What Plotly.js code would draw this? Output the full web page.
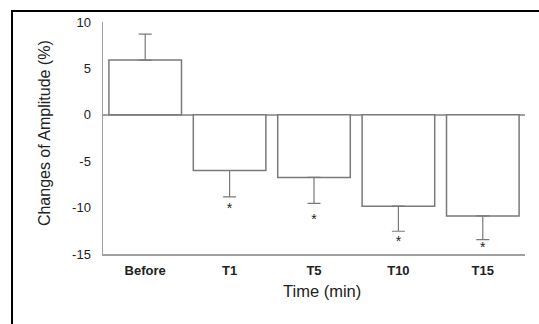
<!DOCTYPE html>
<html>
<head>
<meta charset="utf-8">
<script src="https://cdn.plot.ly/plotly-3.0.1.min.js"></script>
<style>html,body{margin:0;padding:0;background:#fff;}#chart{width:539px;height:324px;}</style>
</head>
<body>
<div id="chart"></div>
<script>
const categories = ["Before", "T1", "T5", "T10", "T15"];
const meanChange = [5.9, -6.0, -6.75, -9.85, -10.9];
const errUp = [2.8, 0, 0, 0, 0];
const errDown = [0, 2.85, 2.8, 2.7, 2.55];
const sigLabels = ["", "*", "*", "*", "*"];
const sigY = [null, -10.2, -11.35, -13.75, -14.4];
const yTicks = [10, 5, 0, -5, -10, -15];
const yTickText = ["10", "5", "0", "-5", "-10", "-15"];

const barTrace = {
  type: "bar",
  x: categories,
  y: meanChange,
  width: 0.86,
  marker: {color: "#ffffff", line: {color: "#7a7a7a", width: 1.5}},
  error_y: {type: "data", symmetric: false, array: errUp, arrayminus: errDown,
            color: "#7a7a7a", thickness: 1.2, width: 6.5},
  hoverinfo: "none"
};
const starTrace = {
  type: "scatter",
  mode: "text",
  x: categories,
  y: sigY,
  text: sigLabels,
  textposition: "middle center",
  textfont: {family: "Liberation Sans, Arial, sans-serif", size: 14, color: "#222"},
  hoverinfo: "none"
};

const layout = {
  width: 539, height: 324,
  margin: {l: 103, r: 14, t: 22, b: 70},
  paper_bgcolor: "#fff", plot_bgcolor: "#fff",
  showlegend: false,
  font: {family: "Liberation Sans, Arial, sans-serif", color: "#222"},
  xaxis: {
    type: "category", range: [-0.5, 4.5],
    showline: true, linecolor: "#a0a0a0", linewidth: 1.5,
    showgrid: false, zeroline: false, ticks: "",
    tickfont: {size: 13, color: "#222", weight: "bold"},
    ticklabelstandoff: 4
  },
  yaxis: {
    range: [-15, 10], tickvals: yTicks, ticktext: yTickText,
    showline: true, linecolor: "#a0a0a0", linewidth: 1.5,
    showgrid: false, zeroline: true, zerolinecolor: "#a0a0a0", zerolinewidth: 1.5,
    ticks: "", tickfont: {size: 13, color: "#222"},
    ticklabelstandoff: 8
  },
  annotations: [
    {text: "Time (min)", xref: "paper", yref: "paper", x: 0.52, y: -0.158,
     xanchor: "center", yanchor: "middle", showarrow: false,
     font: {size: 16.5, color: "#222"}},
    {text: "Changes of Amplitude (%)", xref: "paper", yref: "paper", x: -0.138, y: 0.52,
     xanchor: "center", yanchor: "middle", showarrow: false, textangle: -90,
     font: {size: 16, color: "#222"}}
  ],
  shapes: [
    {type: "line", xref: "paper", yref: "paper", x0: -0.2156, x1: -0.2156, y0: 1.0496, y1: -0.31,
     line: {color: "#000", width: 2}},
    {type: "line", xref: "paper", yref: "paper", x0: -0.218, x1: 1.04, y0: 1.0474, y1: 1.0474,
     line: {color: "#000", width: 2}}
  ]
};

Plotly.newPlot("chart", [barTrace, starTrace], layout, {staticPlot: true, displayModeBar: false});
</script>
</body>
</html>
